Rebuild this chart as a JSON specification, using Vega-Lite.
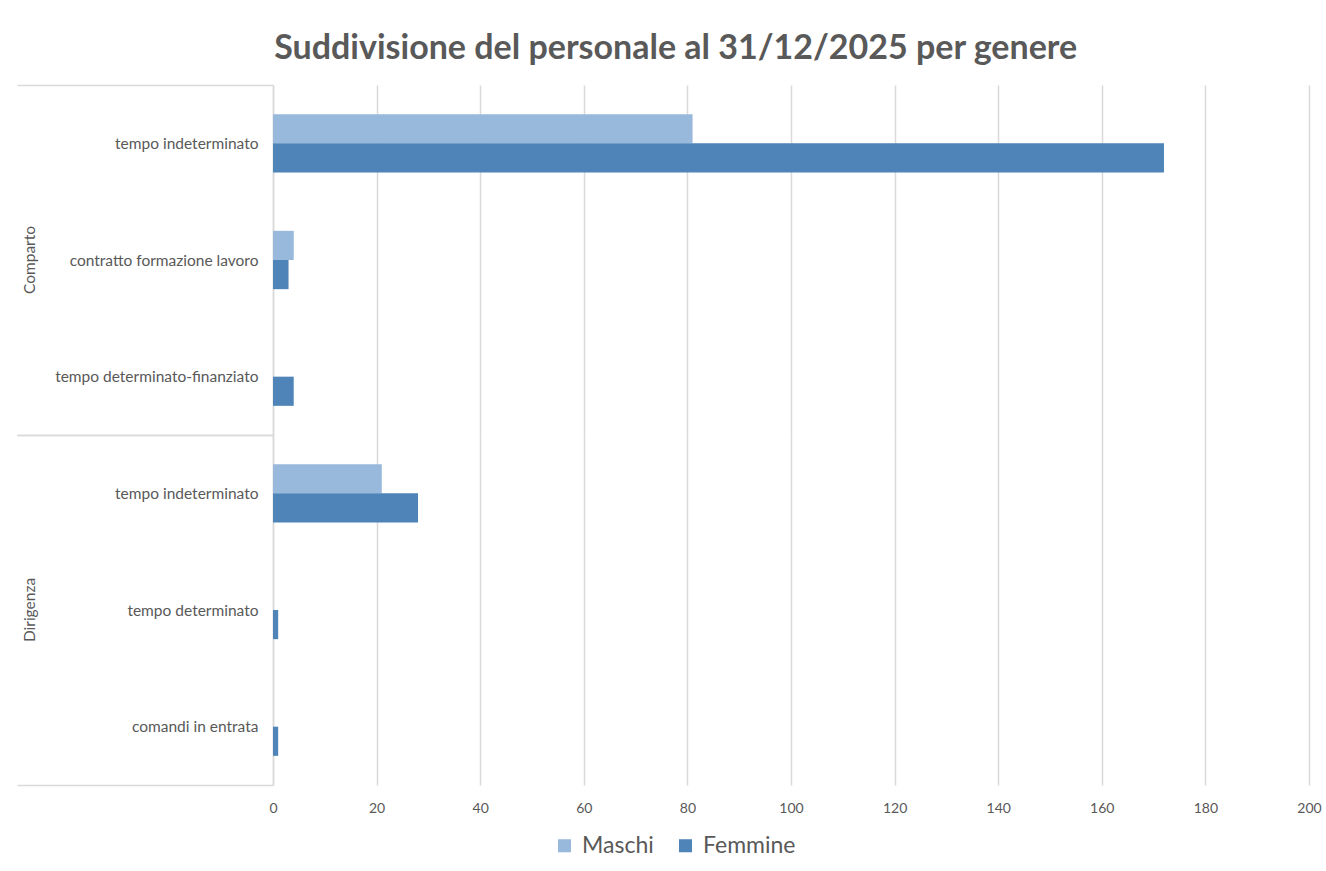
{
  "$schema": "https://vega.github.io/schema/vega-lite/v6.json",
  "padding": {"top": 32, "left": 16, "right": 5, "bottom": 12},
  "background": "white",
  "bounds": "flush",
  "title": {
    "text": "Suddivisione del personale al 31/12/2025 per genere",
    "fontSize": 34,
    "fontWeight": "bold",
    "font": "Lato",
    "color": "#595959",
    "anchor": "middle",
    "frame": "bounds",
    "dx": 7,
    "offset": 12
  },
  "data": {
    "values": [
      {"gruppo": "Comparto", "categoria": "tempo indeterminato", "genere": "Maschi", "valore": 81},
      {"gruppo": "Comparto", "categoria": "tempo indeterminato", "genere": "Femmine", "valore": 172},
      {"gruppo": "Comparto", "categoria": "contratto formazione lavoro", "genere": "Maschi", "valore": 4},
      {"gruppo": "Comparto", "categoria": "contratto formazione lavoro", "genere": "Femmine", "valore": 3},
      {"gruppo": "Comparto", "categoria": "tempo determinato-finanziato", "genere": "Maschi", "valore": 0},
      {"gruppo": "Comparto", "categoria": "tempo determinato-finanziato", "genere": "Femmine", "valore": 4},
      {"gruppo": "Dirigenza", "categoria": "tempo indeterminato", "genere": "Maschi", "valore": 21},
      {"gruppo": "Dirigenza", "categoria": "tempo indeterminato", "genere": "Femmine", "valore": 28},
      {"gruppo": "Dirigenza", "categoria": "tempo determinato", "genere": "Maschi", "valore": 0},
      {"gruppo": "Dirigenza", "categoria": "tempo determinato", "genere": "Femmine", "valore": 1},
      {"gruppo": "Dirigenza", "categoria": "comandi in entrata", "genere": "Maschi", "valore": 0},
      {"gruppo": "Dirigenza", "categoria": "comandi in entrata", "genere": "Femmine", "valore": 1}
    ]
  },
  "facet": {
    "row": {
      "field": "gruppo",
      "type": "nominal",
      "sort": ["Comparto", "Dirigenza"],
      "header": {
        "title": null,
        "labelAngle": -90,
        "labelOrient": "left",
        "labelFontSize": 15.5,
        "labelFont": "Lato",
        "labelColor": "#595959",
        "labelPadding": 228
      }
    }
  },
  "spacing": 0,
  "resolve": {"scale": {"y": "independent", "yOffset": "independent"}},
  "spec": {
    "width": 1036,
    "height": 350,
    "mark": {"type": "bar"},
    "encoding": {
      "y": {
        "field": "categoria",
        "type": "nominal",
        "sort": null,
        "scale": {"paddingInner": 0, "paddingOuter": 0},
        "axis": {
          "title": null,
          "labelFontSize": 15.5,
          "labelFont": "Lato",
          "labelColor": "#595959",
          "labelLimit": 300,
          "tickSize": 256,
          "labelPadding": -241,
          "tickBand": "extent",
          "tickColor": "#d9d9d9",
          "tickWidth": 1.5,
          "tickOpacity": {"condition": {"test": "datum.index === -1 || datum.index === 1", "value": 1}, "value": 0},
          "domainColor": "#d9d9d9",
          "domainWidth": 1.5
        }
      },
      "yOffset": {
        "field": "genere",
        "type": "nominal",
        "sort": ["Maschi", "Femmine"],
        "scale": {"paddingInner": 0, "paddingOuter": 1.05}
      },
      "x": {
        "field": "valore",
        "type": "quantitative",
        "scale": {"domain": [0, 200], "nice": false},
        "axis": {
          "title": null,
          "values": [0, 20, 40, 60, 80, 100, 120, 140, 160, 180, 200],
          "grid": true,
          "gridColor": "#d9d9d9",
          "gridWidth": 1.5,
          "domain": false,
          "ticks": false,
          "labelFlush": false,
          "labelPadding": 16,
          "labelFontSize": 14,
          "labelFont": "Lato",
          "labelColor": "#595959"
        }
      },
      "color": {
        "field": "genere",
        "type": "nominal",
        "sort": ["Maschi", "Femmine"],
        "scale": {"domain": ["Maschi", "Femmine"], "range": ["#98b9dc", "#4e84b7"]},
        "legend": {
          "title": null,
          "orient": "none",
          "direction": "horizontal",
          "legendX": 280,
          "legendY": 749,
          "symbolType": "square",
          "symbolSize": 170,
          "symbolStrokeWidth": 0,
          "labelFontSize": 23,
          "labelFont": "Lato",
          "labelColor": "#595959",
          "columnPadding": 20,
          "labelOffset": 6
        }
      }
    }
  },
  "config": {
    "view": {"stroke": null},
    "font": "Lato"
  }
}
